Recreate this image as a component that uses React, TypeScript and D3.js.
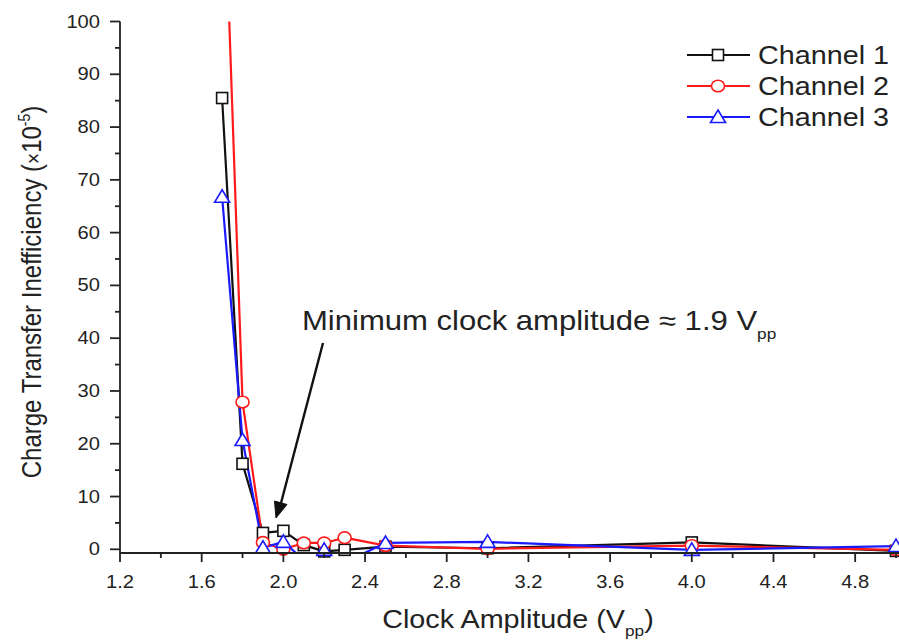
import React from "react";
import * as d3 from "d3";

const xValues = [1.7, 1.8, 1.9, 2.0, 2.1, 2.2, 2.3, 2.5, 3.0, 4.0, 5.0];
const channel1 = [85.5, 16.2, 3.1, 3.5, 0.8, -0.4, -0.1, 0.5, 0.2, 1.3, -0.3];
const channel2 = [139, 27.9, 1.3, 0.0, 1.2, 1.2, 2.2, 0.7, 0.1, 0.7, -0.1];
const channel3 = [66.8, 20.7, 0.3, 1.4, -2.0, -0.1, -2.5, 1.2, 1.4, -0.1, 0.6];
const seriesNames = ["Channel 1", "Channel 2", "Channel 3"];
const seriesColors = ["#111111", "#ff1a1a", "#1a1aff"];
const seriesMarkers = ["square", "circle", "triangle"];
const xTicks = [1.2, 1.6, 2.0, 2.4, 2.8, 3.2, 3.6, 4.0, 4.4, 4.8];
const yTicks = [0, 10, 20, 30, 40, 50, 60, 70, 80, 90, 100];

const W = 899;
const H = 641;
const SX = 1.15;
const FONT = "'Liberation Sans', Arial, Helvetica, sans-serif";

const x = d3.scaleLinear().domain([1.2, 5.0]).range([120, 896]);
const y = d3.scaleLinear().domain([-0.7, 100]).range([553, 21.5]);

function Marker({ type, cx, cy, color }: { type: string; cx: number; cy: number; color: string }) {
  if (type === "square") {
    return <rect x={cx - 5.5} y={cy - 5.5} width={11} height={11} fill="#fff" stroke={color} strokeWidth={1.6} />;
  }
  if (type === "circle") {
    return <ellipse cx={cx} cy={cy} rx={6.5} ry={5.8} fill="#fff" stroke={color} strokeWidth={1.6} />;
  }
  const p = `M${cx},${cy - 7} L${cx + 7.5},${cy + 5.5} L${cx - 7.5},${cy + 5.5} Z`;
  return <path d={p} fill="#fff" stroke={color} strokeWidth={1.6} />;
}

export default function App() {
  const data = [channel1, channel2, channel3];
  const line = d3
    .line<[number, number]>()
    .x((d) => x(d[0]))
    .y((d) => y(d[1]));
  const [y0, y1] = y.domain();
  const xMinor = d3.range(1.4, 5.01, 0.4);
  const yMinor = d3.range(5, 100, 10);

  return (
    <svg
      width={W}
      height={H}
      style={{ position: "absolute", left: 0, top: 0, background: "#fff" }}
      fontFamily={FONT}
    >
      <defs>
        <clipPath id="plot">
          <rect x={120} y={21.5} width={W - 120} height={553 - 21.5} />
        </clipPath>
      </defs>

      {/* series lines */}
      <g clipPath="url(#plot)">
        {data.map((vals, i) => (
          <path
            key={i}
            d={line(xValues.map((xv, j) => [xv, vals[j]] as [number, number])) || ""}
            fill="none"
            stroke={seriesColors[i]}
            strokeWidth={2.2}
            strokeLinejoin="round"
          />
        ))}
      </g>
      {/* markers */}
      {data.map((vals, i) => (
        <g key={i}>
          {xValues.map((xv, j) =>
            vals[j] >= y0 && vals[j] <= y1 ? (
              <Marker key={j} type={seriesMarkers[i]} cx={x(xv)} cy={y(vals[j])} color={seriesColors[i]} />
            ) : null
          )}
        </g>
      ))}

      {/* axes */}
      <g stroke="#222" strokeWidth={1.8}>
        <line x1={120} y1={21.5} x2={120} y2={553} />
        <line x1={120} y1={553} x2={W} y2={553} />
        {yTicks.map((t) => (
          <line key={"yt" + t} x1={110} x2={120} y1={y(t)} y2={y(t)} />
        ))}
        {yMinor.map((t) => (
          <line key={"ym" + t} x1={115} x2={120} y1={y(t)} y2={y(t)} />
        ))}
        {xTicks.map((t) => (
          <line key={"xt" + t} x1={x(t)} x2={x(t)} y1={553} y2={562} />
        ))}
        {xMinor.map((t) => (
          <line key={"xm" + t} x1={x(t)} x2={x(t)} y1={553} y2={558} />
        ))}
      </g>

      {/* tick labels */}
      <g fill="#222" fontSize={17.5}>
        {yTicks.map((t) => (
          <text key={"yl" + t} textAnchor="end" transform={`translate(100,${y(t) + 6}) scale(${SX},1)`}>
            {t}
          </text>
        ))}
        {xTicks.map((t) => (
          <text key={"xl" + t} textAnchor="middle" transform={`translate(${x(t)},588) scale(${SX},1)`}>
            {t.toFixed(1)}
          </text>
        ))}
      </g>

      {/* axis titles */}
      <text fill="#222" fontSize={25} textAnchor="middle" transform={`translate(518,628) scale(${SX},1)`}>
        Clock Amplitude (V
        <tspan fontSize={15} dy={8}>pp</tspan>
        <tspan dy={-8}>)</tspan>
      </text>
      <text fill="#222" fontSize={24} textAnchor="middle" transform={`translate(41,292) scale(${SX},1) rotate(-90)`}>
        Charge Transfer Inefficiency (
        <tspan fontSize={19}>×</tspan>
        10
        <tspan fontSize={14} dy={-10}>-5</tspan>
        <tspan dy={10}>)</tspan>
      </text>

      {/* annotation */}
      <text fill="#222" fontSize={27} transform={`translate(302,330) scale(${SX},1)`}>
        Minimum clock amplitude ≈ 1.9 V
        <tspan fontSize={15} dy={9}>pp</tspan>
      </text>
      <line x1={323} y1={343} x2={281} y2={503} stroke="#111" strokeWidth={2.4} />
      <path d="M276,518 L274.5,501 L287,504.5 Z" fill="#111" stroke="#111" strokeWidth={1} />

      {/* legend */}
      {seriesNames.map((name, i) => {
        const cy = 55 + i * 31;
        return (
          <g key={name}>
            <line x1={687} x2={750} y1={cy} y2={cy} stroke={seriesColors[i]} strokeWidth={2.2} />
            <Marker type={seriesMarkers[i]} cx={718} cy={cy} color={seriesColors[i]} />
            <text fill="#222" fontSize={25} transform={`translate(758,${cy + 9}) scale(${SX},1)`}>
              {name}
            </text>
          </g>
        );
      })}
    </svg>
  );
}
